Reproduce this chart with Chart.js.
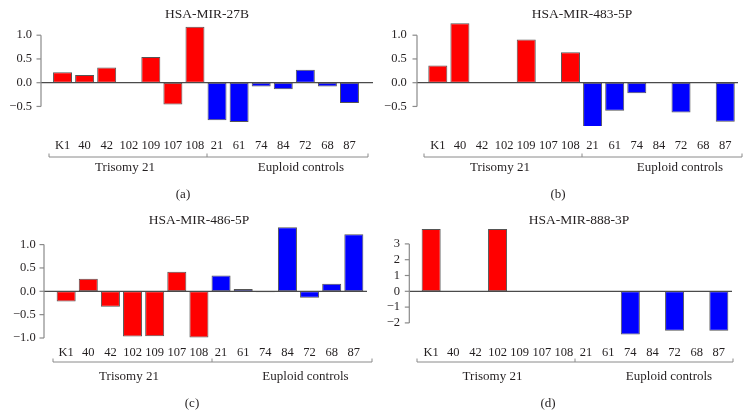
<!DOCTYPE html>
<html><head><meta charset="utf-8">
<script src="https://cdn.jsdelivr.net/npm/chart.js@4/dist/chart.umd.min.js"></script>
<style>
html,body{margin:0;padding:0;background:#fff;}
#wrap{position:relative;width:750px;height:416px;overflow:hidden;background:#fff;}
canvas{position:absolute;}
</style></head><body>
<div id="wrap">
<canvas id="ca" width="375" height="205" style="left:0;top:0"></canvas>
<canvas id="cb" width="375" height="205" style="left:375px;top:0"></canvas>
<canvas id="cc" width="375" height="211" style="left:0;top:205px"></canvas>
<canvas id="cd" width="375" height="211" style="left:375px;top:205px"></canvas>
</div>
<script>
// ---- data ----
const samples = ['K1','40','42','102','109','107','108','21','61','74','84','72','68','87'];
const groupNames = ['Trisomy 21','Euploid controls'];
const trisomyCount = 7;
const mir27b = [0.22,0.16,0.32,0,0.54,-0.46,1.18,-0.79,-0.83,-0.08,-0.14,0.27,-0.08,-0.43];
const mir483 = [0.36,1.25,0,0,0.91,0,0.64,-0.96,-0.59,-0.22,0,-0.63,0,-0.82];
const mir486 = [-0.22,0.27,-0.33,-0.97,-0.96,0.42,-0.99,0.34,0.05,-0.02,1.37,-0.14,0.16,1.22];
const mir888 = [3.95,0,0,3.95,0,0,0,0,0,-2.73,0,-2.49,0,-2.49];
const titles = ['HSA-MIR-27B','HSA-MIR-483-5P','HSA-MIR-486-5P','HSA-MIR-888-3P'];
const panelLetters = ['(a)','(b)','(c)','(d)'];
const ticksAB = [-0.5,0,0.5,1.0];
const ticksC = [-1.0,-0.5,0,0.5,1.0];
const ticksD = [-2,-1,0,1,2,3];

// ---- layout (positions only) ----
const FONT = '"Liberation Serif", "Times New Roman", serif';
const panels = [
  {id:'ca', data:mir27b, ticks:ticksAB, dec:1, min:-0.9116, max:1.2358, left:51.5, right:360.5, top:24, bottom:126, H:205,
   axisX:41, zeroR:373, yPad:19.5, xPad:11.8, titleX:207, titleY:14, brY:157, brL:49, brM:207, brR:368, gY:168, g1:125, g2:301, letX:183, letY:195},
  {id:'cb', data:mir483, ticks:ticksAB, dec:1, min:-0.9116, max:1.32, left:51.75, right:361.3, top:20, bottom:126, H:205,
   axisX:42, zeroR:363, yPad:20, xPad:11.8, titleX:207, titleY:14, brY:157, brL:49, brM:207, brR:367, gY:168, g1:125, g2:305, letX:183, letY:195},
  {id:'cc', data:mir486, ticks:ticksC, dec:1, min:-1.0428, max:1.4197, left:55.1, right:364.9, top:20, bottom:135, H:211,
   axisX:44, zeroR:367, yPad:19.4, xPad:4.8, titleX:199, titleY:15, brY:157, brL:53, brM:212, brR:372, gY:172, g1:129, g2:305.5, letX:192, letY:199},
  {id:'cd', data:mir888, ticks:ticksD, dec:0, min:-3.082, max:4.196, left:45.1, right:354.9, top:20, bottom:135, H:211,
   axisX:34.3, zeroR:357, yPad:20, xPad:4.8, titleX:204, titleY:15, brY:157, brL:42, brM:200, brR:358, gY:172, g1:117.5, g2:294, letX:173, letY:199}
];

function fmt(v, dec){
  const s = Math.abs(v).toFixed(dec);
  return (v < 0 ? '\u2212' : '') + s;
}
function zeroPad(s){ s.paddingTop = 0; s.paddingBottom = 0; s.paddingLeft = 0; s.paddingRight = 0; }

const decorPlugin = {
  id:'decor',
  afterDatasetsDraw(chart, args, opts){
    const p = opts.p;
    const ctx = chart.ctx;
    const y = chart.scales.y;
    ctx.save();
    // zero line
    const y0 = y.getPixelForValue(0);
    ctx.strokeStyle = '#4a4a4a';
    ctx.lineWidth = 1.2;
    ctx.beginPath(); ctx.moveTo(p.axisX, y0); ctx.lineTo(p.zeroR, y0); ctx.stroke();
    // y axis line with ticks
    const t0 = y.getPixelForValue(p.ticks[0]);
    const t1 = y.getPixelForValue(p.ticks[p.ticks.length-1]);
    ctx.strokeStyle = '#8a8a8a';
    ctx.lineWidth = 1.2;
    ctx.beginPath(); ctx.moveTo(p.axisX, t0); ctx.lineTo(p.axisX, t1); ctx.stroke();
    p.ticks.forEach(v => {
      const ty = y.getPixelForValue(v);
      ctx.beginPath(); ctx.moveTo(p.axisX - 4.5, ty); ctx.lineTo(p.axisX, ty); ctx.stroke();
    });
    // bracket
    ctx.strokeStyle = '#8a8a8a';
    ctx.lineWidth = 1;
    ctx.beginPath();
    ctx.moveTo(p.brL, p.brY); ctx.lineTo(p.brR, p.brY);
    [p.brL, p.brM, p.brR].forEach(bx => { ctx.moveTo(bx, p.brY); ctx.lineTo(bx, p.brY - 3.5); });
    ctx.stroke();
    // texts
    ctx.fillStyle = '#231f20';
    ctx.textAlign = 'center';
    ctx.textBaseline = 'middle';
    ctx.font = '13.5px ' + FONT;
    ctx.fillText(p.title, p.titleX, p.titleY);
    ctx.font = '13px ' + FONT;
    ctx.fillText(groupNames[0], p.g1, p.gY);
    ctx.fillText(groupNames[1], p.g2, p.gY);
    ctx.fillText(p.letter, p.letX, p.letY);
    ctx.restore();
  }
};

panels.forEach((p, i) => {
  p.title = titles[i];
  p.letter = panelLetters[i];
  const colors = samples.map((s, k) => k < trisomyCount ? '#ff0000' : '#0000ff');
  new Chart(document.getElementById(p.id), {
    type:'bar',
    data:{ labels: samples, datasets:[{ data: p.data, backgroundColor: colors, borderColor:'#555555', borderWidth:1, borderSkipped:false,
      categoryPercentage:1.0, barPercentage:0.86 }] },
    options:{
      responsive:false, animation:false, devicePixelRatio:1,
      layout:{ padding:{ top:p.top, right:375 - p.right, left:0, bottom:0 } },
      plugins:{ legend:{display:false}, tooltip:{enabled:false}, title:{display:false}, decor:{p:p} },
      scales:{
        x:{ type:'category', offset:true,
          grid:{display:false, drawTicks:false, tickLength:0}, border:{display:false},
          ticks:{ color:'#231f20', font:{family:FONT, size:12.5}, padding:p.xPad, maxRotation:0, autoSkip:false },
          afterFit(s){ s.height = p.H - p.bottom; zeroPad(s); } },
        y:{ type:'linear', min:p.min, max:p.max,
          grid:{display:false, drawTicks:false, tickLength:0}, border:{display:false},
          afterBuildTicks(s){ s.ticks = p.ticks.map(v => ({value:v})); },
          ticks:{ color:'#231f20', font:{family:FONT, size:12.5}, padding:p.yPad, callback:(v) => fmt(v, p.dec) },
          afterFit(s){ s.width = p.left; zeroPad(s); } }
      }
    },
    plugins:[decorPlugin]
  });
});
</script>
</body></html>
